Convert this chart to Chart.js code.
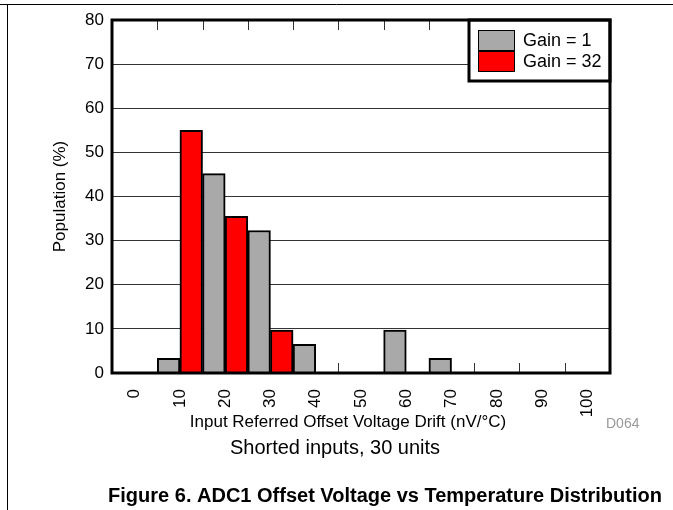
<!DOCTYPE html>
<html>
<head>
<meta charset="utf-8">
<script src="https://cdn.jsdelivr.net/npm/chart.js@4"></script>
<style>
  body { margin: 0; background: #fff; }
  canvas { display: block; }
</style>
</head>
<body>
<canvas id="chart" width="673" height="510"></canvas>
<script>
// bins of the drift histogram (nV/°C)
const driftBins = ['0', '10', '20', '30', '40', '50', '60', '70', '80', '90', '100'];
// population in % for each bin
const gain1Pop = [0, 3.3, 45.2, 32.3, 6.5, 0, 9.7, 3.3, 0, 0, 0];
const gain32Pop = [0, 55, 35.5, 9.7, 0, 0, 0, 0, 0, 0, 0];
const seriesNames = ['Gain = 1', 'Gain = 32'];
const yMin = 0, yMax = 80, yStep = 10;

const GRAY = '#a9a9a9';
const RED = '#ff0000';
const FONT = "'Liberation Sans', Arial, sans-serif";

Chart.defaults.font.family = FONT;
Chart.defaults.color = '#000';

// frame, inside ticks, legend box and the text around the plot
const figureExtras = {
  id: 'figureExtras',
  beforeDatasetsDraw(chart) {
    const { ctx, chartArea: a } = chart;
    const xs = chart.scales.x;
    ctx.save();
    ctx.strokeStyle = '#333';
    ctx.lineWidth = 1;
    for (let i = 0; i < driftBins.length - 1; i++) {
      const x = Math.round((xs.getPixelForValue(i) + xs.getPixelForValue(i + 1)) / 2) + 0.5;
      ctx.beginPath();
      ctx.moveTo(x, a.top); ctx.lineTo(x, a.top + 10);
      ctx.moveTo(x, a.bottom); ctx.lineTo(x, a.bottom - 10);
      ctx.stroke();
    }
    ctx.restore();
  },
  afterDatasetsDraw(chart) {
    const { ctx, chartArea: a } = chart;
    ctx.save();
    // legend box in top right corner
    const w = 141, h = 61;
    const lx = a.right - w, ly = a.top;
    ctx.fillStyle = '#fff';
    ctx.fillRect(lx, ly, w, h);
    chart.data.datasets.forEach((ds, i) => {
      const sy = ly + 10 + i * 21;
      ctx.fillStyle = ds.backgroundColor;
      ctx.fillRect(lx + 9, sy, 37, 21);
      ctx.strokeStyle = '#000';
      ctx.lineWidth = 1;
      ctx.strokeRect(lx + 9.5, sy + 0.5, 36, 20);
      ctx.fillStyle = '#000';
      ctx.font = '18px ' + FONT;
      ctx.textBaseline = 'middle';
      ctx.textAlign = 'left';
      ctx.fillText(ds.label, lx + 54, sy + 11);
    });
    ctx.lineWidth = 3;
    ctx.strokeStyle = '#000';
    ctx.strokeRect(lx, ly, w, h);
    // plot frame
    ctx.strokeRect(a.left, a.top, a.right - a.left, a.bottom - a.top);
    ctx.restore();
  },
  afterDraw(chart) {
    const { ctx } = chart;
    ctx.save();
    // page rules
    ctx.strokeStyle = '#000';
    ctx.lineWidth = 1;
    ctx.beginPath();
    ctx.moveTo(0, 4.5); ctx.lineTo(673, 4.5);
    ctx.moveTo(7.5, 4); ctx.lineTo(7.5, 510);
    ctx.stroke();
    ctx.textBaseline = 'middle';
    ctx.textAlign = 'center';
    ctx.fillStyle = '#000';
    ctx.font = '17px ' + FONT;
    ctx.fillText('Input Referred Offset Voltage Drift (nV/°C)', 348, 422);
    ctx.textAlign = 'left';
    ctx.fillStyle = '#999';
    ctx.font = '14px ' + FONT;
    ctx.fillText('D064', 606, 424);
    ctx.textAlign = 'center';
    ctx.fillStyle = '#000';
    ctx.font = '20px ' + FONT;
    ctx.fillText('Shorted inputs, 30 units', 335, 448);
    ctx.font = 'bold 20px ' + FONT;
    ctx.fillText('Figure 6. ADC1 Offset Voltage vs Temperature Distribution', 385, 496);
    ctx.restore();
  }
};

new Chart(document.getElementById('chart'), {
  type: 'bar',
  data: {
    labels: driftBins,
    datasets: [
      {
        label: seriesNames[0],
        data: gain1Pop,
        backgroundColor: GRAY,
        borderColor: '#000',
        borderWidth: 2,
        borderSkipped: 'start'
      },
      {
        label: seriesNames[1],
        data: gain32Pop,
        backgroundColor: RED,
        borderColor: '#000',
        borderWidth: 2,
        borderSkipped: 'start'
      }
    ]
  },
  options: {
    responsive: false,
    animation: false,
    layout: { padding: { left: 50, right: 63, top: 20, bottom: 75 } },
    datasets: { bar: { categoryPercentage: 1, barPercentage: 1 } },
    plugins: {
      legend: { display: false },
      tooltip: { enabled: false },
      title: { display: false }
    },
    scales: {
      x: {
        grid: { display: false },
        border: { display: false },
        ticks: { font: { size: 17 }, maxRotation: 90, minRotation: 90, padding: 8, autoSkip: false },
        title: { display: false },
        afterFit(scale) { scale.height = 62; }
      },
      y: {
        min: yMin,
        max: yMax,
        grid: { color: '#333', lineWidth: 1, drawTicks: false },
        border: { display: false },
        ticks: { stepSize: yStep, font: { size: 17 }, padding: 8 },
        title: {
          display: true,
          text: 'Population (%)',
          font: { size: 17 },
          padding: 0
        },
        afterFit(scale) { scale.width = 62; }
      }
    }
  },
  plugins: [figureExtras]
});
</script>
</body>
</html>
